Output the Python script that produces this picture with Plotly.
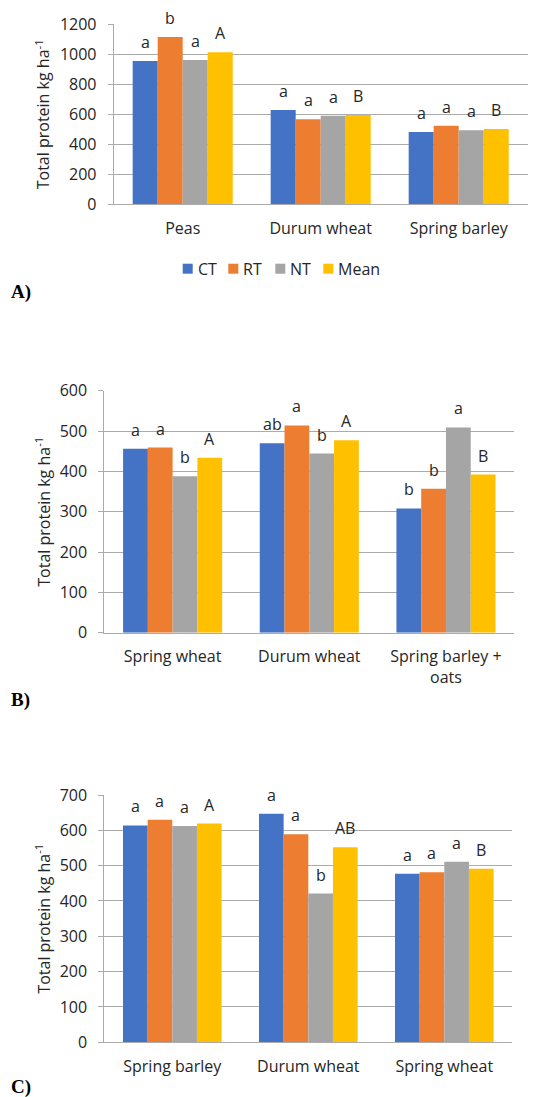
import plotly.graph_objects as go

series = ["CT", "RT", "NT", "Mean"]
colors = ["#4472C4", "#ED7D31", "#A5A5A5", "#FFC000"]

# Panel A
cats_a = ["Peas", "Durum wheat", "Spring barley"]
ct_a = [955, 629, 482]
rt_a = [1115, 567, 524]
nt_a = [962, 591, 493]
mean_a = [1013, 595, 502]
let_ct_a = ["a", "a", "a"]
let_rt_a = ["b", "a", "a"]
let_nt_a = ["a", "a", "a"]
let_mean_a = ["A", "B", "B"]

# Panel B
cats_b = ["Spring wheat", "Durum wheat", "Spring barley +<br>oats"]
ct_b = [456, 470, 308]
rt_b = [459, 514, 357]
nt_b = [388, 444, 509]
mean_b = [434, 477, 392]
let_ct_b = ["a", "ab", "b"]
let_rt_b = ["a", "a", "b"]
let_nt_b = ["b", "b", "a"]
let_mean_b = ["A", "A", "B"]

# Panel C
cats_c = ["Spring barley", "Durum wheat", "Spring wheat"]
ct_c = [614, 647, 477]
rt_c = [630, 589, 481]
nt_c = [612, 421, 511]
mean_c = [619, 552, 491]
let_ct_c = ["a", "a", "a"]
let_rt_c = ["a", "a", "a"]
let_nt_c = ["a", "b", "a"]
let_mean_c = ["A", "AB", "B"]

W, H = 536, 1097
FONT = "'Open Sans', Lato, sans-serif"
TXT = "#262626"
GRID = "#ABABAB"
BARGAP = 0.275

panels = [
    dict(cats=cats_a, vals=[ct_a, rt_a, nt_a, mean_a],
         lets=[let_ct_a, let_rt_a, let_nt_a, let_mean_a],
         xpx=(113.7, 527.7), ypx=(24.3, 204.3), rng=[0, 1200], dt=200,
         label="A)", label_y=292),
    dict(cats=cats_b, vals=[ct_b, rt_b, nt_b, mean_b],
         lets=[let_ct_b, let_rt_b, let_nt_b, let_mean_b],
         xpx=(104.3, 514.3), ypx=(390.7, 632.7), rng=[0, 600], dt=100,
         label="B)", label_y=700),
    dict(cats=cats_c, vals=[ct_c, rt_c, nt_c, mean_c],
         lets=[let_ct_c, let_rt_c, let_nt_c, let_mean_c],
         xpx=(104.3, 512.3), ypx=(795.0, 1042.3), rng=[0, 700], dt=100,
         label="C)", label_y=1087),
]

fig = go.Figure()
annotations = []
shapes = []
layout = {}
nser = len(series)
barw = (1 - BARGAP) / nser

for p_i, p in enumerate(panels):
    sfx = "" if p_i == 0 else str(p_i + 1)
    xa, ya = "x" + sfx, "y" + sfx
    for s_i, name in enumerate(series):
        fig.add_trace(go.Bar(
            x=p["cats"], y=p["vals"][s_i], name=name,
            marker=dict(color=colors[s_i], line=dict(width=0)),
            xaxis=xa, yaxis=ya, showlegend=False,
        ))
        for c_i, (v, t) in enumerate(zip(p["vals"][s_i], p["lets"][s_i])):
            annotations.append(dict(
                x=c_i + (s_i - (nser - 1) / 2) * barw, y=v, xref=xa, yref=ya,
                text=t, showarrow=False, yshift=19, yanchor="middle",
                font=dict(family=FONT, size=16, color=TXT),
            ))
    x0, x1 = p["xpx"]
    yt, yb = p["ypx"]
    layout["xaxis" + sfx] = dict(
        domain=[x0 / W, x1 / W], anchor=ya, type="category",
        showline=True, linecolor=GRID, linewidth=1, ticks="",
        showgrid=False, tickfont=dict(family=FONT, size=16, color=TXT),
        ticklabelstandoff=9, automargin=False,
    )
    layout["yaxis" + sfx] = dict(
        domain=[1 - yb / H, 1 - yt / H], anchor=xa, range=p["rng"],
        dtick=p["dt"], tick0=0, showgrid=True, gridcolor=GRID, gridwidth=1,
        showline=True, linecolor=GRID, linewidth=1, ticks="outside",
        ticklen=5, tickcolor=GRID, zeroline=False, automargin=False,
        tickfont=dict(family=FONT, size=16, color=TXT),
        ticklabelstandoff=8,
    )
    annotations.append(dict(
        x=43 / W, y=1 - ((yt + yb) / 2) / H, xref="paper", yref="paper",
        text="Total protein kg ha<sup>-1</sup>", textangle=-90,
        showarrow=False, xanchor="center", yanchor="middle",
        font=dict(family=FONT, size=16, color=TXT),
    ))
    annotations.append(dict(
        x=9 / W, y=1 - p["label_y"] / H, xref="paper", yref="paper",
        text="<b>" + p["label"] + "</b>", showarrow=False,
        xanchor="left", yanchor="middle",
        font=dict(family="Liberation Serif, serif", size=19, color="#000"),
    ))

# Legend (panel A), drawn as swatches + labels
leg_x = [182.7, 228.3, 275.3, 323.3]
leg_y = 268.7
for name, col, lx in zip(series, colors, leg_x):
    shapes.append(dict(
        type="rect", xref="paper", yref="paper",
        x0=lx / W, x1=(lx + 10) / W,
        y0=1 - (leg_y + 5) / H, y1=1 - (leg_y - 5) / H,
        fillcolor=col, line=dict(width=0),
    ))
    annotations.append(dict(
        x=(lx + 13) / W, y=1 - leg_y / H, xref="paper", yref="paper",
        text=name, showarrow=False, xanchor="left", yanchor="middle",
        font=dict(family=FONT, size=16, color=TXT),
    ))

fig.update_layout(
    width=W, height=H,
    margin=dict(l=0, r=0, t=0, b=0, autoexpand=False),
    paper_bgcolor="white", plot_bgcolor="white",
    barmode="group", bargap=BARGAP, bargroupgap=0,
    showlegend=False,
    annotations=annotations, shapes=shapes,
    **layout,
)

fig.write_html(
    "out.html",
    config={"displayModeBar": False, "staticPlot": True},
    post_script="document.body.style.margin='0';document.body.style.padding='0';"
                "document.body.style.overflow='hidden';",
)
